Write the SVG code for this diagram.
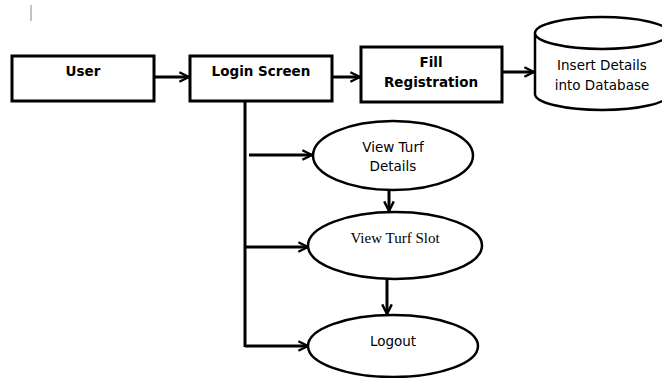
<svg xmlns="http://www.w3.org/2000/svg" width="662" height="378" viewBox="0 0 662 378">
<defs>
<marker id="ah" viewBox="0 0 10 10" refX="9" refY="5" markerWidth="4" markerHeight="4" orient="auto" markerUnits="strokeWidth">
<path d="M1,1 L9,5 L1,9" fill="none" stroke="#000" stroke-width="2"/>
</marker>
<style>
.box{fill:#fff;stroke:#000;stroke-width:3}
.shape{fill:#fff;stroke:#000;stroke-width:2.5}
.bl{font-family:"DejaVu Sans",Verdana,sans-serif;font-weight:bold;font-size:13.5px;text-anchor:middle;fill:#000}
.nl{font-family:"DejaVu Sans",Verdana,sans-serif;font-size:13.5px;text-anchor:middle;fill:#000}
.sl{font-family:"Liberation Serif","Times New Roman",serif;font-size:15px;text-anchor:middle;fill:#000}
.c{fill:none;stroke:#000;stroke-width:3}
.ca{fill:none;stroke:#000;stroke-width:3;marker-end:url(#ah)}
</style>
</defs>
<rect width="662" height="378" fill="#fff"/>
<line x1="31" y1="5" x2="31" y2="21" stroke="#888" stroke-width="1"/>
<g id="connectors">
<line class="ca" x1="154" y1="77" x2="189" y2="77"/>
<line class="ca" x1="332" y1="77" x2="360" y2="77"/>
<line class="ca" x1="502" y1="72" x2="534" y2="72"/>
<line class="c" x1="245" y1="101" x2="245" y2="347"/>
<line class="ca" x1="249" y1="155" x2="312" y2="155"/>
<line class="ca" x1="245" y1="247" x2="308" y2="247"/>
<line class="ca" x1="245" y1="346" x2="308" y2="346"/>
<line class="ca" x1="389" y1="190" x2="389" y2="211"/>
<line class="ca" x1="387" y1="279" x2="387" y2="314"/>
</g>
<g id="user">
<rect class="box" x="12" y="56" width="142" height="45"/>
<text class="bl" x="83" y="76">User</text>
</g>
<g id="login">
<rect class="box" x="190" y="56" width="142" height="45"/>
<text class="bl" x="261" y="76">Login Screen</text>
</g>
<g id="fill">
<rect class="box" x="361" y="47" width="141" height="55"/>
<text class="bl" x="431" y="67">Fill</text>
<text class="bl" x="431" y="87">Registration</text>
</g>
<g id="database">
<path class="shape" d="M535,33 L535,94 A67,16 0 0 0 669,94 L669,33"/>
<ellipse class="shape" cx="602" cy="33" rx="67" ry="16"/>
<text class="nl" x="602" y="70">Insert Details</text>
<text class="nl" x="602" y="90">into Database</text>
</g>
<g id="viewdetails">
<ellipse class="shape" cx="393" cy="155.5" rx="80" ry="34.5"/>
<text class="nl" x="393" y="152">View Turf</text>
<text class="nl" x="393" y="171">Details</text>
</g>
<g id="viewslot">
<ellipse class="shape" cx="395" cy="245.5" rx="87" ry="33.5"/>
<text class="sl" x="395" y="243">View Turf Slot</text>
</g>
<g id="logout">
<ellipse class="shape" cx="393" cy="346" rx="85" ry="31"/>
<text class="nl" x="393" y="346">Logout</text>
</g>
</svg>
